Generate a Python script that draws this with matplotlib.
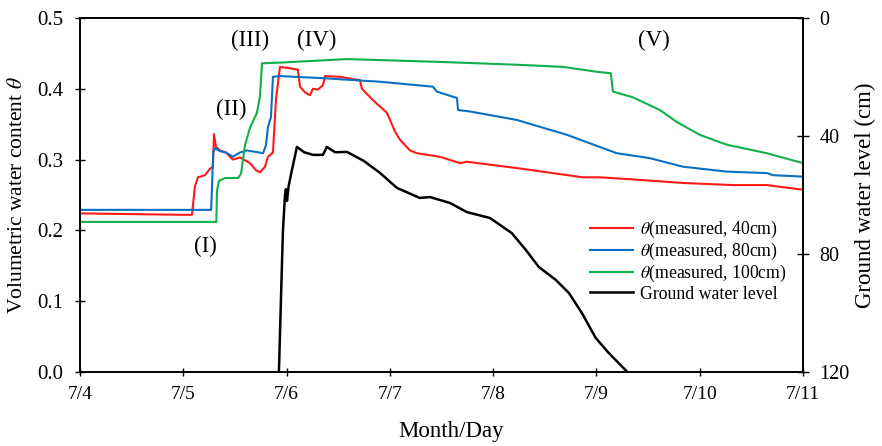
import numpy as np
import matplotlib
matplotlib.use("Agg")
import matplotlib.pyplot as plt

plt.rcParams['font.family'] = ['Liberation Serif', 'DejaVu Serif']
plt.rcParams['mathtext.fontset'] = 'stix'

# days since 7/0 (7/4 -> 4.0)
red_day = [4.0, 5.0, 5.084, 5.113, 5.142, 5.21, 5.258, 5.287, 5.297, 5.317, 5.355, 5.413, 5.48,
           5.549, 5.646, 5.704, 5.743, 5.791, 5.82, 5.868, 5.897, 5.936, 6.033, 6.11, 6.13,
           6.178, 6.226, 6.255, 6.304, 6.352, 6.372, 6.517, 6.711, 6.73, 6.836, 6.972, 7.049,
           7.098, 7.195, 7.262, 7.485, 7.679, 7.746, 8.23, 8.869, 9.034, 9.353, 9.837, 10.32,
           10.65, 10.97, 11.0]
red_theta = [0.224, 0.222, 0.222, 0.262, 0.275, 0.278, 0.287, 0.29, 0.336, 0.318, 0.313, 0.31, 0.30,
             0.303, 0.295, 0.285, 0.282, 0.29, 0.304, 0.31, 0.384, 0.431, 0.429, 0.427, 0.403,
             0.395, 0.391, 0.40, 0.399, 0.405, 0.418, 0.417, 0.412, 0.40, 0.384, 0.366, 0.34,
             0.328, 0.313, 0.309, 0.304, 0.295, 0.297, 0.288, 0.275, 0.275, 0.272, 0.267, 0.264,
             0.264, 0.258, 0.258]

blue_day = [4.0, 5.27, 5.29, 5.307, 5.355, 5.413, 5.48, 5.549, 5.617, 5.772, 5.8, 5.82, 5.849,
            5.868, 5.936, 6.352, 6.904, 7.417, 7.456, 7.65, 7.66, 7.775, 8.23, 8.714, 9.198,
            9.518, 9.837, 10.263, 10.65, 10.708, 11.0]
blue_theta = [0.229, 0.229, 0.31, 0.316, 0.312, 0.31, 0.304, 0.31, 0.313, 0.309, 0.32, 0.346, 0.36,
              0.417, 0.418, 0.415, 0.41, 0.403, 0.396, 0.387, 0.37, 0.368, 0.356, 0.335, 0.309,
              0.302, 0.29, 0.283, 0.281, 0.278, 0.276]

green_day = [4.0, 5.32, 5.326, 5.345, 5.404, 5.53, 5.559, 5.597, 5.646, 5.713, 5.743, 5.762,
             5.936, 6.585, 7.485, 8.23, 8.676, 9.005, 9.14, 9.16, 9.353, 9.615, 9.78, 10.0,
             10.263, 10.65, 11.0]
green_theta = [0.212, 0.212, 0.255, 0.27, 0.274, 0.274, 0.28, 0.32, 0.345, 0.366, 0.39, 0.436,
               0.437, 0.442, 0.438, 0.434, 0.431, 0.424, 0.422, 0.396, 0.388, 0.37, 0.353, 0.335,
               0.321, 0.309, 0.295]

gwl_day = [5.926, 5.95, 5.965, 5.985, 5.994, 6.004, 6.02, 6.052, 6.08, 6.10, 6.17, 6.256, 6.352,
           6.39, 6.47, 6.585, 6.75, 6.904, 7.069, 7.29, 7.388, 7.582, 7.746, 7.969, 8.18, 8.316,
           8.442, 8.607, 8.733, 8.859, 8.994, 9.12, 9.30]
gwl_depth = [120, 90, 72, 60, 58, 62, 57, 51.5, 47, 43.7, 45.5, 46.4, 46.4,
             43.7, 45.5, 45.4, 48.5, 52.5, 57.6, 61, 60.7, 62.7, 65.8, 67.8, 72.9, 78.6,
             84.4, 88.8, 93.2, 100, 108.5, 113.6, 120]

day_ticks = [4, 5, 6, 7, 8, 9, 10, 11]
day_labels = ['7/4', '7/5', '7/6', '7/7', '7/8', '7/9', '7/10', '7/11']

phase_labels = ['(I)', '(II)', '(III)', '(IV)', '(V)']
phase_day = [5.21, 5.46, 5.645, 6.29, 9.56]
phase_theta = [0.178, 0.371, 0.469, 0.469, 0.469]

fig = plt.figure(figsize=(8.82, 4.46), dpi=100)
ax = fig.add_axes([0.0907, 0.166, 0.8197, 0.7936])
ax2 = ax.twinx()

l1, = ax.plot(red_day, red_theta, color='#ff1a1a', lw=1.5, label=r'$\theta$(measured, 40cm)')
l2, = ax.plot(blue_day, blue_theta, color='#0a6fc2', lw=1.5, label=r'$\theta$(measured, 80cm)')
l3, = ax.plot(green_day, green_theta, color='#12b04a', lw=1.5, label=r'$\theta$(measured, 100cm)')
l4, = ax2.plot(gwl_day, gwl_depth, color='black', lw=1.8, label='Ground water level')

ax.set_xlim(4, 11)
ax.set_ylim(0, 0.5)
ax2.set_ylim(120, 0)
ax.set_xticks(day_ticks)
ax.set_xticklabels(day_labels)
ax.set_yticks([0, 0.1, 0.2, 0.3, 0.4, 0.5])
ax.set_yticklabels(['0.0', '0.1', '0.2', '0.3', '0.4', '0.5'])
ax2.set_yticks([0, 40, 80, 120])

ax.tick_params(axis='y', direction='inout', length=7, width=1, labelsize=15, pad=8.5)
ax.tick_params(axis='x', direction='inout', length=6, width=1, labelsize=14, pad=7)
ax2.tick_params(axis='y', direction='inout', length=8.5, width=1, labelsize=14.5, pad=7.5)

for a in (ax, ax2):
    for s in a.spines.values():
        s.set_linewidth(1.2)

ax.set_xlabel('Month/Day', fontsize=16.5)
ax.xaxis.set_label_coords(0.513, -0.138)
ax.set_ylabel(r'Volumetric water content $\theta$', fontsize=15.5, labelpad=7)
ax2.set_ylabel('Ground water level (cm)', fontsize=16.5, labelpad=4)

for txt, xx, yy in zip(phase_labels, phase_day, phase_theta):
    ax.text(xx, yy, txt, fontsize=16.5, ha='center', va='center')

ax.legend([l1, l2, l3, l4], [l.get_label() for l in (l1, l2, l3, l4)],
          loc='lower right', bbox_to_anchor=(1.0, 0.151), frameon=False, fontsize=12.8,
          handlelength=2.4, labelspacing=0.06, handletextpad=0.4)

fig.savefig('out.png', dpi=100)
